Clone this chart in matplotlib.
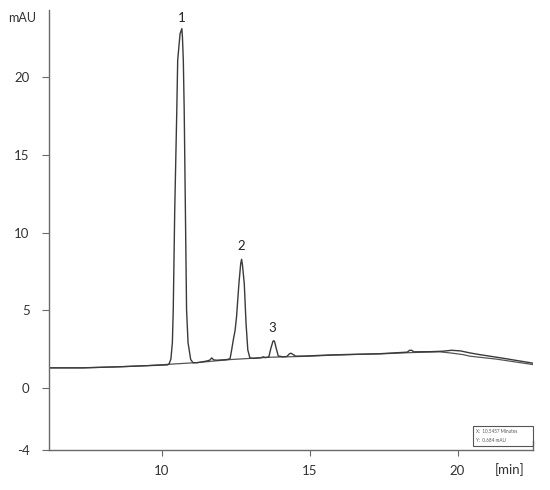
import matplotlib
matplotlib.use("Agg")
import matplotlib.pyplot as plt

# Sample trace (time in min, signal in mAU)
sample_time = [6.19, 7.34, 8.59, 9.5, 10.20, 10.25, 10.31, 10.36, 10.39, 10.44, 10.51, 10.54,
               10.62, 10.68, 10.70, 10.73, 10.76, 10.80, 10.84, 10.89, 10.98, 11.06, 11.2,
               11.5, 11.62, 11.69, 11.76, 11.87, 12.2, 12.31, 12.36, 12.42, 12.48, 12.53,
               12.61, 12.67, 12.70, 12.73, 12.79, 12.85, 12.91, 12.98, 13.1, 13.35, 13.43,
               13.5, 13.62, 13.69, 13.76, 13.79, 13.82, 13.87, 13.94, 14.1, 14.23, 14.32,
               14.37, 14.44, 14.53, 14.84, 15.69, 16.5, 17.38, 18.3, 18.38, 18.45, 18.52,
               19.07, 19.5, 19.8, 20.1, 20.42, 20.75, 21.5, 22.55]
sample_signal = [1.29, 1.29, 1.36, 1.43, 1.48, 1.55, 1.85, 2.91, 5.03, 11.46, 17.9, 21.1,
                 22.8, 23.13, 22.6, 21.1, 17.9, 11.46, 5.03, 2.91, 1.82, 1.62, 1.62,
                 1.72, 1.78, 1.93, 1.80, 1.78, 1.82, 1.88, 2.4, 3.09, 3.7, 4.59,
                 6.73, 8.0, 8.28, 7.9, 6.73, 4.16, 2.44, 1.93, 1.90, 1.94, 2.0,
                 1.95, 1.99, 2.55, 3.0, 3.04, 2.95, 2.55, 2.05, 2.0, 2.02, 2.2,
                 2.23, 2.15, 2.04, 2.05, 2.12, 2.16, 2.20, 2.30, 2.42, 2.42, 2.32,
                 2.33, 2.36, 2.42, 2.38, 2.25, 2.14, 1.92, 1.59]

# Blank trace
blank_time = [6.19, 7.34, 8.59, 9.5, 10.25, 11.2, 12.3, 13.0, 13.6, 14.84, 15.69, 16.5,
              17.38, 18.4, 19.07, 19.4, 19.8, 20.19, 20.42, 21.32, 22.55]
blank_signal = [1.29, 1.29, 1.36, 1.43, 1.52, 1.63, 1.82, 1.90, 1.97, 2.03, 2.10, 2.15,
                2.19, 2.27, 2.31, 2.32, 2.24, 2.14, 2.04, 1.85, 1.50]

peak_labels = ["1", "2", "3"]
peak_label_time = [10.66, 12.70, 13.72]
peak_label_signal = [23.45, 8.75, 3.45]

y_ticks = [20, 15, 10, 5, 0, -4]
x_ticks = [10, 15, 20]

plt.rcParams['font.family'] = ['Lato', 'DejaVu Sans']

fig = plt.figure(figsize=(5.5, 4.9), dpi=100)
ax = fig.add_axes([49/550, 40/490, (533-49)/550, (450-10)/490])

line_col = "#3a3a3a"
ax.plot(blank_time, blank_signal, color="#555555", lw=0.9)
ax.plot(sample_time, sample_signal, color=line_col, lw=1.0)

for lab, t, s in zip(peak_labels, peak_label_time, peak_label_signal):
    ax.text(t, s, lab, ha="center", va="bottom", fontsize=9.5, color="#222222")

ax.set_xlim(6.19, 22.55)
ax.set_ylim(-4, 24.33)
ax.set_xticks(x_ticks)
ax.set_yticks(y_ticks)
ax.set_xticklabels([str(v) for v in x_ticks])
ax.set_yticklabels([str(v) for v in y_ticks])

for s in ["top", "right"]:
    ax.spines[s].set_visible(False)
for s in ["left", "bottom"]:
    ax.spines[s].set_color("#6a6a6a")
    ax.spines[s].set_linewidth(1.0)

ax.tick_params(axis="y", direction="out", length=5, width=0.8, color="#6a6a6a",
               labelsize=9.5, labelcolor="#333333", pad=9)
ax.tick_params(axis="x", direction="out", length=4, width=0.8, color="#6a6a6a",
               labelsize=9.5, labelcolor="#333333", pad=7)

# small end tick at the right end of the x axis
ax.plot([22.55, 22.55], [-4, -3.45], color="#6a6a6a", lw=1.0, clip_on=False)

fig.text(8/550, 1 - 18/490, "mAU", fontsize=9, color="#333333", ha="left", va="center")
fig.text(510/550, 1 - 470/490, "[min]", fontsize=9.5, color="#333333", ha="center", va="center")

# info box
fig.text(476/550, 1 - 431/490, "X:  10.5457 Minutes", fontsize=3.3, color="#555555",
         ha="left", va="center")
fig.text(476/550, 1 - 440.5/490, "Y:  0.684 mAU", fontsize=3.3, color="#555555",
         ha="left", va="center")
box = plt.Rectangle((473/550, 1 - 446/490), 60/550, 20/490, transform=fig.transFigure,
                    fill=False, edgecolor="#555555", lw=0.8)
fig.patches.append(box)

fig.savefig("out.png", dpi=100)
